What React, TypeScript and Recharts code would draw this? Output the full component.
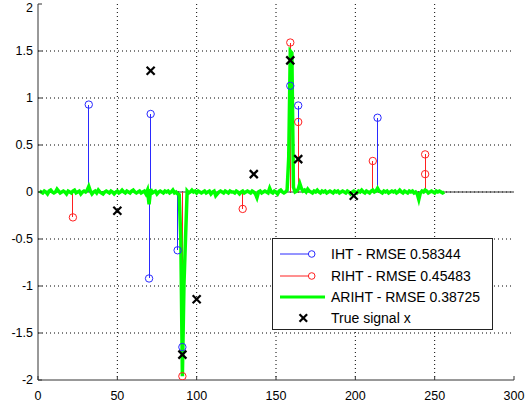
import React from 'react';
import {
  ComposedChart,
  Line,
  Scatter,
  XAxis,
  YAxis,
  CartesianGrid,
  ReferenceLine,
  Legend,
} from 'recharts';

// Axis ticks
const xTicks = [0, 50, 100, 150, 200, 250, 300];
const yTicks = [-2, -1.5, -1, -0.5, 0, 0.5, 1, 1.5, 2];

// IHT estimate (non-zero entries)
const ihtIdx = [32, 70, 71, 88, 91, 159, 164, 214];
const ihtVal = [0.93, -0.92, 0.83, -0.62, -1.65, 1.13, 0.92, 0.79];

// RIHT estimate (non-zero entries)
const rihtIdx = [22, 91, 129, 159, 164, 211, 244, 244];
const rihtVal = [-0.27, -1.96, -0.18, 1.59, 0.745, 0.33, 0.4, 0.19];

// True sparse signal x
const trueIdx = [50, 71, 91, 100, 136, 159, 164, 199];
const trueVal = [-0.2, 1.29, -1.73, -1.14, 0.19, 1.4, 0.35, -0.04];

// ARIHT estimate, samples 1..256
const arihtVal = [
  0.01, 0.0, -0.01, 0.01, 0.0, -0.02, 0.01, 0.02, 0.0, -0.01, 0.0, 0.03, 0.01, -0.01, 0.0, 0.01,
  0.0, -0.02, 0.01, 0.0, -0.01, 0.01, 0.02, -0.01, 0.0, 0.01, -0.02, 0.0, 0.01, 0.0, 0.02, 0.06,
  0.01, -0.02, 0.0, 0.01, -0.01, 0.02, 0.0, -0.01, -0.02, 0.0, 0.01, 0.0, -0.01, 0.01, 0.0, -0.02,
  0.0, 0.01, -0.01, 0.0, 0.02, 0.0, -0.01, 0.01, 0.0, -0.01, 0.01, 0.02, 0.0, -0.01, 0.0, 0.01,
  -0.01, 0.0, 0.01, -0.02, 0.02, -0.13, 0.03, -0.01, 0.0, 0.01, -0.02, 0.0, 0.01, 0.0, -0.01, 0.01,
  0.0, 0.01, -0.01, 0.0, 0.02, -0.01, 0.0, -0.02, -0.03, -0.5, -1.96, -0.98, -0.48, 0.01, -0.01, 0.0,
  0.02, 0.0, 0.01, -0.01, 0.01, 0.0, -0.01, 0.0, 0.01, -0.01, 0.0, 0.01, -0.02, 0.0, 0.01, -0.04,
  -0.02, 0.0, 0.01, 0.0, -0.01, 0.01, 0.0, -0.01, 0.01, 0.0, 0.0, -0.01, 0.01, 0.0, -0.02, 0.0,
  0.01, -0.01, 0.0, 0.01, 0.0, -0.01, 0.01, 0.0, -0.02, -0.06, 0.0, 0.01, -0.01, 0.0, 0.01, 0.0,
  -0.01, 0.04, 0.0, -0.01, 0.01, 0.0, -0.02, 0.01, 0.02, 0.0, -0.01, 0.0, 0.02, 0.36, 1.5, 1.48,
  0.05, 0.0, 0.01, 0.03, 0.09, 0.04, 0.01, 0.02, 0.0, 0.03, 0.01, 0.0, -0.01, 0.01, 0.0, 0.02,
  0.0, -0.01, 0.01, 0.0, 0.01, -0.01, 0.0, 0.01, 0.0, -0.01, 0.01, 0.0, 0.01, -0.01, 0.0, 0.01,
  0.0, -0.01, 0.01, 0.0, -0.02, 0.0, 0.01, 0.0, -0.01, 0.01, 0.0, 0.02, 0.0, -0.01, 0.01, 0.0,
  -0.01, 0.01, 0.02, 0.0, 0.01, 0.04, 0.01, 0.0, -0.01, 0.01, 0.0, 0.01, -0.01, 0.0, 0.01, 0.0,
  0.01, -0.01, 0.0, 0.02, 0.0, -0.01, 0.01, 0.0, -0.01, 0.01, 0.0, 0.01, -0.01, 0.0, -0.02, -0.08,
  -0.01, 0.01, 0.0, 0.02, 0.01, -0.01, 0.0, 0.01, 0.0, -0.01, 0.01, 0.0, 0.01, 0.0, -0.01, 0.0,
];

const legendLabels = [
  'IHT - RMSE 0.58344',
  'RIHT - RMSE 0.45483',
  'ARIHT - RMSE 0.38725',
  'True signal x',
];

const BLUE = '#2a2aff';
const RED = '#ff2020';
const GREEN = '#00ff00';
const FONT = '"Liberation Sans", Arial, Helvetica, sans-serif';

const toPoints = (idx: number[], val: number[]) => idx.map((x, i) => ({ x, y: val[i] }));

const ihtData = toPoints(ihtIdx, ihtVal);
const rihtData = toPoints(rihtIdx, rihtVal);
const trueData = toPoints(trueIdx, trueVal);
const arihtData = arihtVal.map((y, i) => ({ x: i + 1, y }));

// each stem is a two-point segment from the zero baseline up/down to the value
const stemSegments = (pts: { x: number; y: number }[]) =>
  pts.map((p) => [
    { x: p.x, y: 0 },
    { x: p.x, y: p.y },
  ]);

const circleShape = (color: string) => (p: any) =>
  p.cx == null ? null : (
    <circle cx={p.cx} cy={p.cy} r={3.7} fill="none" stroke={color} strokeWidth={1} />
  );

const crossShape = (p: any) => {
  if (p.cx == null) return null;
  const s = 4;
  return (
    <g stroke="#000" strokeWidth={2.2}>
      <line x1={p.cx - s} y1={p.cy - s} x2={p.cx + s} y2={p.cy + s} />
      <line x1={p.cx - s} y1={p.cy + s} x2={p.cx + s} y2={p.cy - s} />
    </g>
  );
};

const LegendBox = () => {
  const rows = [16, 38, 59, 80];
  return (
    <svg width={221} height={92} style={{ display: 'block' }}>
      <rect x={0.5} y={0.5} width={220} height={91} fill="#fff" stroke="#222" strokeWidth={1} />
      <line x1={8} y1={rows[0]} x2={36.4} y2={rows[0]} stroke={BLUE} strokeWidth={1} />
      <circle cx={39.7} cy={rows[0]} r={3.3} fill="none" stroke={BLUE} strokeWidth={1} />
      <line x1={8} y1={rows[1]} x2={36.4} y2={rows[1]} stroke={RED} strokeWidth={1} />
      <circle cx={39.7} cy={rows[1]} r={3.3} fill="none" stroke={RED} strokeWidth={1} />
      <line x1={8} y1={rows[2]} x2={53} y2={rows[2]} stroke={GREEN} strokeWidth={3} />
      <g stroke="#000" strokeWidth={2.2}>
        <line x1={27.5} y1={rows[3] - 3.8} x2={35.1} y2={rows[3] + 3.8} />
        <line x1={27.5} y1={rows[3] + 3.8} x2={35.1} y2={rows[3] - 3.8} />
      </g>
      {legendLabels.map((t, i) => (
        <text key={t} x={59} y={rows[i] + 5} fontSize={14} fontFamily={FONT} fill="#000">
          {t}
        </text>
      ))}
    </svg>
  );
};

export default function App() {
  const tickStyle = { fontSize: 12.5, fontFamily: FONT, fill: '#000' };
  return (
    <div style={{ position: 'absolute', left: 0, top: 0, width: 525, height: 409, background: '#fff' }}>
      <ComposedChart
        width={525}
        height={409}
        margin={{ top: 4, right: 11, bottom: 4, left: 0 }}
      >
        <CartesianGrid
          stroke="#000"
          strokeDasharray="1 3"
          horizontalValues={yTicks.slice(1, -1)}
          verticalValues={xTicks.slice(1, -1)}
        />
        <XAxis
          type="number"
          dataKey="x"
          domain={[0, 300]}
          ticks={xTicks}
          allowDataOverflow
          height={25}
          tickSize={-4}
          tickMargin={15}
          tick={tickStyle}
          axisLine={{ stroke: '#333' }}
          tickLine={{ stroke: '#333' }}
        />
        <XAxis
          xAxisId="top"
          orientation="top"
          type="number"
          domain={[0, 300]}
          ticks={xTicks}
          height={0}
          tick={false}
          tickSize={-4}
          axisLine={{ stroke: '#333' }}
          tickLine={{ stroke: '#333' }}
        />
        <YAxis
          type="number"
          domain={[-2, 2]}
          ticks={yTicks}
          allowDataOverflow
          width={38}
          tickSize={-4}
          tickMargin={9}
          tick={tickStyle}
          axisLine={{ stroke: '#333' }}
          tickLine={{ stroke: '#333' }}
        />
        <YAxis
          yAxisId="right"
          orientation="right"
          type="number"
          domain={[-2, 2]}
          ticks={yTicks}
          width={0}
          tick={false}
          tickSize={-4}
          axisLine={{ stroke: '#333' }}
          tickLine={{ stroke: '#333' }}
        />
        <ReferenceLine y={0} stroke="#333" strokeWidth={1} />
        {stemSegments(ihtData).map((seg, i) => (
          <Line
            key={'iht-stem-' + i}
            data={seg}
            dataKey="y"
            type="linear"
            stroke={BLUE}
            strokeWidth={1}
            shapeRendering="crispEdges"
            dot={false}
            legendType="none"
            isAnimationActive={false}
          />
        ))}
        {stemSegments(rihtData).map((seg, i) => (
          <Line
            key={'riht-stem-' + i}
            data={seg}
            dataKey="y"
            type="linear"
            stroke={RED}
            strokeWidth={1}
            shapeRendering="crispEdges"
            dot={false}
            legendType="none"
            isAnimationActive={false}
          />
        ))}
        <Line
          data={arihtData}
          dataKey="y"
          type="linear"
          stroke={GREEN}
          strokeWidth={3.5}
          dot={false}
          isAnimationActive={false}
        />
        <Scatter data={ihtData} dataKey="y" shape={circleShape(BLUE)} isAnimationActive={false} />
        <Scatter data={rihtData} dataKey="y" shape={circleShape(RED)} isAnimationActive={false} />
        <Scatter data={trueData} dataKey="y" shape={crossShape} isAnimationActive={false} />
        <Legend
          layout="vertical"
          align="center"
          verticalAlign="middle"
          content={() => <LegendBox />}
          wrapperStyle={{ position: 'absolute', left: 272, top: 238, width: 221, height: 92 }}
        />
      </ComposedChart>
    </div>
  );
}
